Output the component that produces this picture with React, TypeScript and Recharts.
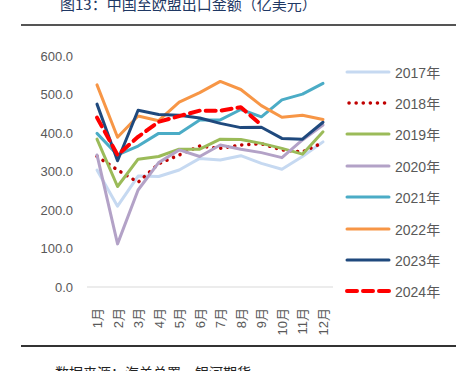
import React from 'react';
import { Line, LineChart, XAxis, YAxis } from 'recharts';

const months = ['1月', '2月', '3月', '4月', '5月', '6月', '7月', '8月', '9月', '10月', '11月', '12月'];

const y2017 = [304, 210, 288, 287, 304, 334, 330, 341, 321, 306, 339, 377];
const y2018 = [339, 304, 272, 320, 343, 366, 360, 369, 372, 356, 351, 375];
const y2019 = [384, 261, 332, 339, 358, 358, 384, 383, 373, 360, 345, 403];
const y2020 = [343, 112, 252, 323, 356, 339, 369, 358, 349, 336, 382, 421];
const y2021 = [399, 343, 366, 399, 399, 434, 434, 461, 442, 486, 501, 529];
const y2022 = [525, 389, 444, 432, 480, 505, 534, 513, 471, 441, 446, 435];
const y2023 = [475, 328, 459, 448, 446, 439, 425, 414, 415, 386, 384, 428];
const y2024 = [440, 343, 390, 429, 444, 458, 458, 467, 421, null, null, null];

const yTicks = [0, 100, 200, 300, 400, 500, 600];

const data = months.map((m, i) => ({
  month: m,
  y2017: y2017[i],
  y2018: y2018[i],
  y2019: y2019[i],
  y2020: y2020[i],
  y2021: y2021[i],
  y2022: y2022[i],
  y2023: y2023[i],
  y2024: y2024[i],
}));

const series = [
  { key: 'y2017', name: '2017年', color: '#c6d9f1', width: 3, dash: undefined },
  { key: 'y2018', name: '2018年', color: '#c00000', width: 3.5, dash: '0.1 7' },
  { key: 'y2019', name: '2019年', color: '#9bbb59', width: 3, dash: undefined },
  { key: 'y2020', name: '2020年', color: '#b3a2c7', width: 3, dash: undefined },
  { key: 'y2021', name: '2021年', color: '#4bacc6', width: 3, dash: undefined },
  { key: 'y2022', name: '2022年', color: '#f79646', width: 3, dash: undefined },
  { key: 'y2023', name: '2023年', color: '#1f497d', width: 3, dash: undefined },
  { key: 'y2024', name: '2024年', color: '#ff0000', width: 4, dash: '10 6' },
];

const font = '"Liberation Sans", "Noto Sans CJK SC", sans-serif';

const MonthTick = (props: any) => {
  const { x, y, payload } = props;
  return (
    <text
      transform={`translate(${x + 5}, ${y + 13}) rotate(-90)`}
      textAnchor="end"
      fill="#595959"
      fontSize={13}
      fontFamily={font}
    >
      {payload.value}
    </text>
  );
};

const LegendList = () => (
  <div style={{ position: 'absolute', left: 345, top: 56, fontFamily: font, fontSize: 14, color: '#595959' }}>
    {series.map((s) => (
      <div key={s.key} style={{ display: 'flex', alignItems: 'center', height: 31.4 }}>
        <svg width={48} height={8}>
          <line
            x1={s.dash === '0.1 7' ? 4 : 2}
            y1={4}
            x2={44}
            y2={4}
            stroke={s.color}
            strokeWidth={s.width}
            strokeDasharray={s.dash}
            strokeLinecap="round"
          />
        </svg>
        <span style={{ marginLeft: 2 }}>{s.name}</span>
      </div>
    ))}
  </div>
);

const App = () => {
  return (
    <div style={{ position: 'absolute', left: 0, top: 0, width: 456, height: 371, background: '#fff', overflow: 'hidden' }}>
      <div
        style={{
          position: 'absolute',
          left: 60,
          top: -7,
          fontFamily: '"Noto Sans CJK SC", sans-serif',
          fontSize: 15,
          color: '#1f3864',
          whiteSpace: 'nowrap',
        }}
      >
        图13：中国至欧盟出口金额（亿美元）
      </div>
      <div style={{ position: 'absolute', left: 21, top: 24, width: 435, height: 2, background: '#555' }} />
      <LineChart width={456} height={371} data={data} margin={{ top: 56, right: 123, left: 40, bottom: 44 }}>
        <XAxis
          dataKey="month"
          height={40}
          padding={{ left: 10, right: 10 }}
          tickLine={false}
          axisLine={{ stroke: '#d9d9d9', strokeWidth: 1 }}
          tick={<MonthTick />}
          interval={0}
        />
        <YAxis
          width={47}
          domain={[0, 600]}
          ticks={yTicks}
          tickFormatter={(v: number) => v.toFixed(1)}
          axisLine={false}
          tickLine={false}
          tickSize={6}
          tickMargin={8}
          tick={{ fill: '#595959', fontSize: 13, fontFamily: font }}
        />
        {series.map((s) => (
          <Line
            key={s.key}
            type="linear"
            dataKey={s.key}
            name={s.name}
            stroke={s.color}
            strokeWidth={s.width}
            strokeDasharray={s.dash}
            strokeLinecap="round"
            strokeLinejoin="round"
            dot={false}
            activeDot={false}
            isAnimationActive={false}
          />
        ))}
      </LineChart>
      <LegendList />
      <div style={{ position: 'absolute', left: 21, top: 345, width: 435, height: 2, background: '#333' }} />
      <div
        style={{
          position: 'absolute',
          left: 55,
          top: 362,
          fontFamily: '"Noto Sans CJK SC", sans-serif',
          fontSize: 14,
          color: '#222',
          whiteSpace: 'nowrap',
        }}
      >
        数据来源：海关总署，银河期货
      </div>
    </div>
  );
};

export default App;
